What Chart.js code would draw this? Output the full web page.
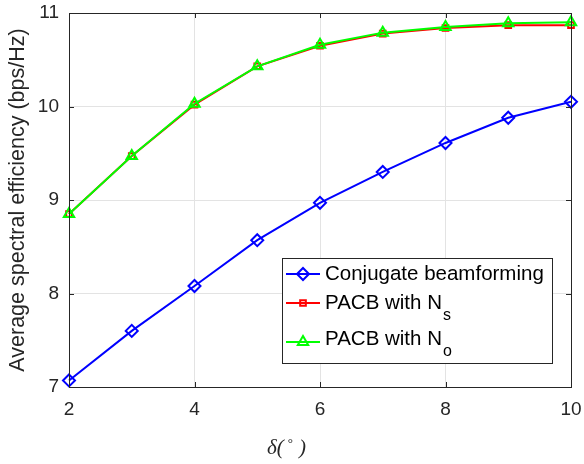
<!DOCTYPE html>
<html>
<head>
<meta charset="utf-8">
<script src="https://cdn.jsdelivr.net/npm/chart.js@4.4.0/dist/chart.umd.min.js"></script>
<style>
  html, body { margin: 0; padding: 0; background: #fff; }
  #wrap { width: 584px; height: 464px; }
</style>
</head>
<body>
<div id="wrap"><canvas id="chart" width="584" height="464"></canvas></div>
<script>
const deltas = [2, 3, 4, 5, 6, 7, 8, 9, 10];
const conjugate = [7.07, 7.60, 8.08, 8.57, 8.97, 9.30, 9.61, 9.88, 10.05];
const pacbNs = [8.85, 9.47, 10.02, 10.43, 10.65, 10.78, 10.84, 10.87, 10.87];
const pacbNo = [8.85, 9.47, 10.03, 10.43, 10.66, 10.79, 10.85, 10.89, 10.90];
const xTicks = [2, 4, 6, 8, 10];
const yTicks = [7, 8, 9, 10, 11];

const font = "'Liberation Sans', Arial, sans-serif";
const serif = "'Liberation Serif', 'Times New Roman', serif";

// order: lower is drawn on top (green over red, like the original)
const series = [
    { label: 'Conjugate beamforming', sub: '', values: conjugate, color: '#0000ff', marker: 'rectRot', radius: 6, order: 1 },
    { label: 'PACB with N', sub: 's', values: pacbNs, color: '#ff0000', marker: 'rect', radius: 4, order: 2 },
    { label: 'PACB with N', sub: 'o', values: pacbNo, color: '#00ff00', marker: 'triangle', radius: 6, order: 0 }
];

// box round the plot, inward ticks, x title, legend
const framePlugin = {
    id: 'frame',
    afterDatasetsDraw(chart) {
        const ctx = chart.ctx;
        const a = chart.chartArea;
        const xs = chart.scales.x, ys = chart.scales.y;
        ctx.save();
        ctx.strokeStyle = '#262626';
        ctx.lineWidth = 1;
        ctx.strokeRect(Math.round(a.left) + 0.5, Math.round(a.top) + 0.5, Math.round(a.right - a.left), Math.round(a.bottom - a.top));
        ctx.beginPath();
        xTicks.forEach(t => {
            const px = Math.round(xs.getPixelForValue(t)) + 0.5;
            ctx.moveTo(px, a.bottom); ctx.lineTo(px, a.bottom - 5);
            ctx.moveTo(px, a.top); ctx.lineTo(px, a.top + 5);
        });
        yTicks.forEach(t => {
            const py = Math.round(ys.getPixelForValue(t)) + 0.5;
            ctx.moveTo(a.left, py); ctx.lineTo(a.left + 5, py);
            ctx.moveTo(a.right, py); ctx.lineTo(a.right - 5, py);
        });
        ctx.stroke();

        // x axis title: δ(°  )
        ctx.fillStyle = '#262626';
        ctx.textBaseline = 'alphabetic';
        ctx.textAlign = 'left';
        ctx.font = 'italic 21px ' + serif;
        let tx = 267;
        const ty = 454;
        ctx.fillText('δ(', tx, ty);
        tx += ctx.measureText('δ(').width + 4;
        ctx.font = '13px ' + serif;
        ctx.fillText('°', tx, ty - 7);
        tx += ctx.measureText('°').width + 6;
        ctx.font = 'italic 21px ' + serif;
        ctx.fillText(')', tx, ty);

        // legend
        const bx = 282, by = 258, bw = 270, bh = 105;
        ctx.fillStyle = '#fff';
        ctx.fillRect(bx, by, bw, bh);
        ctx.strokeStyle = '#262626';
        ctx.lineWidth = 1;
        ctx.strokeRect(bx + 0.5, by + 0.5, bw, bh);
        const rows = [274, 303, 342];
        series.forEach((s, i) => {
            const y = rows[i];
            ctx.strokeStyle = s.color;
            ctx.lineWidth = 2;
            ctx.beginPath();
            ctx.moveTo(286, y); ctx.lineTo(320, y);
            ctx.stroke();
            ctx.fillStyle = 'rgba(0,0,0,0)';
            Chart.helpers.drawPoint(ctx, { pointStyle: s.marker, radius: s.radius, borderWidth: 2 }, 303, y);
            ctx.fillStyle = '#000';
            ctx.font = '20.5px ' + font;
            ctx.textBaseline = 'middle';
            ctx.textAlign = 'left';
            ctx.fillText(s.label, 325, i === 2 ? y - 3 : y);
            if (s.sub) {
                const w = ctx.measureText(s.label).width;
                ctx.font = '16px ' + font;
                ctx.fillText(s.sub, 326 + w, (i === 2 ? y - 3 : y) + 13);
            }
        });
        ctx.restore();
    }
};

new Chart(document.getElementById('chart'), {
    type: 'line',
    data: {
        labels: deltas,
        datasets: series.map(s => ({
            label: s.label + s.sub,
            data: deltas.map((d, i) => ({ x: d, y: s.values[i] })),
            order: s.order,
            borderColor: s.color,
            backgroundColor: 'rgba(0,0,0,0)',
            pointStyle: s.marker,
            pointRadius: s.radius,
            pointBorderColor: s.color,
            pointBackgroundColor: 'rgba(0,0,0,0)',
            pointBorderWidth: 2,
            borderWidth: 2,
            tension: 0,
            clip: false
        }))
    },
    options: {
        responsive: false,
        animation: false,
        layout: { padding: { top: 13, right: 13, left: 5, bottom: 0 } },
        plugins: { legend: { display: false }, tooltip: { enabled: false } },
        scales: {
            x: {
                type: 'linear',
                min: 2, max: 10,
                afterBuildTicks: axis => { axis.ticks = xTicks.map(v => ({ value: v })); },
                afterFit: axis => { axis.height = 77; axis.paddingRight = 0; axis.paddingLeft = 0; },
                grid: { color: '#e3e3e3', drawTicks: false },
                border: { color: '#262626' },
                ticks: { padding: 11, color: '#262626', font: { family: font, size: 19 } },
                title: { display: false }
            },
            y: {
                min: 7, max: 11,
                afterBuildTicks: axis => { axis.ticks = yTicks.map(v => ({ value: v })); },
                afterFit: axis => { axis.width = 64; axis.paddingTop = 0; axis.paddingBottom = 0; },
                grid: { color: '#e3e3e3', drawTicks: false },
                border: { color: '#262626' },
                ticks: { padding: 10, color: '#262626', font: { family: font, size: 19 } },
                title: {
                    display: true, text: 'Average spectral efficiency (bps/Hz)', color: '#262626',
                    font: { family: font, size: 21.5 }, padding: { top: 0, bottom: 2 }
                }
            }
        }
    },
    plugins: [framePlugin]
});
</script>
</body>
</html>
